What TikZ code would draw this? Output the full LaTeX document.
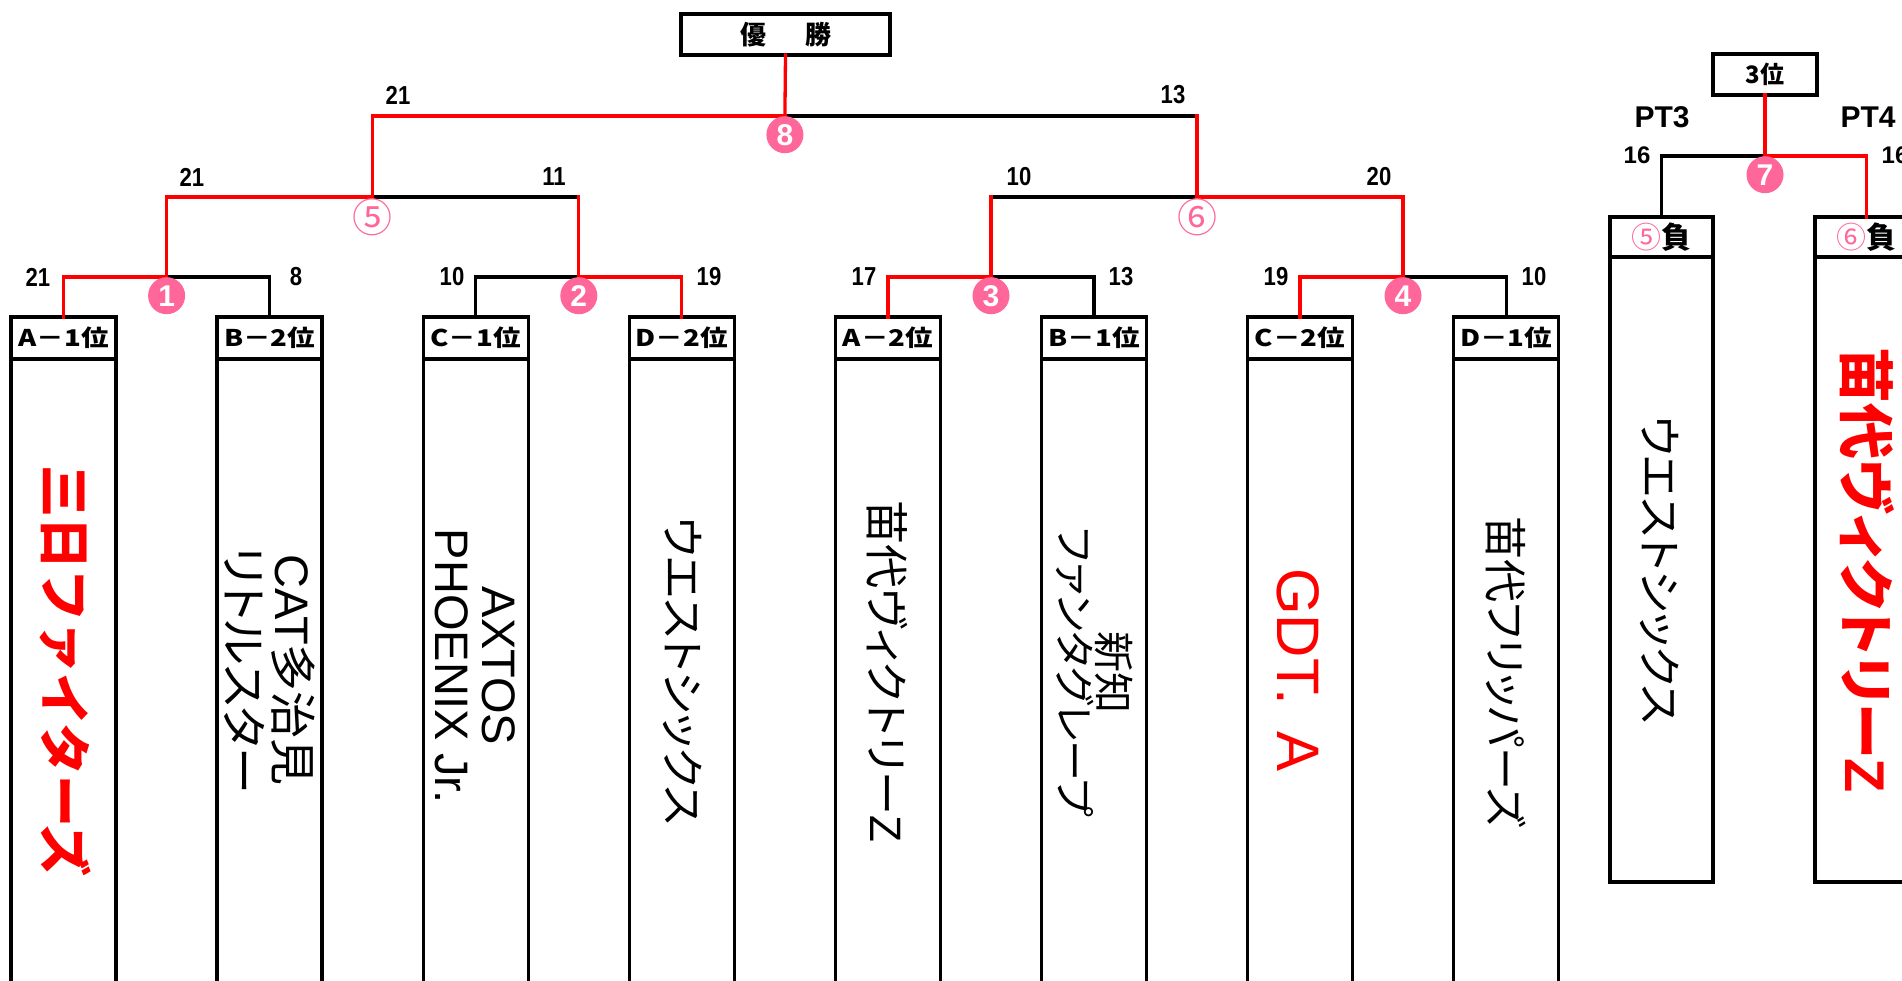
\documentclass[tikz,border=0pt]{standalone}
\usepackage{fontspec}
\setmainfont{Liberation Sans}
\newfontfamily\lat{Liberation Sans}
\newfontfamily\jpf[RawFeature=+palt]{Noto Sans CJK JP}
\newfontfamily\jpm{Noto Sans CJK JP}
\newcommand\fsz[1]{\fontsize{#1}{#1}\selectfont}
\definecolor{pinkc}{RGB}{255,102,153}
\definecolor{redc}{RGB}{255,0,0}
\begin{document}
\begin{tikzpicture}[x=1pt,y=-1pt,
  blk/.style={line width=3.3pt, black, line cap=rect},
  rd/.style={line width=3.3pt, redc, line cap=rect},
  hdr/.style={draw, line width=3.3pt, minimum width=105pt, minimum height=42pt, inner sep=0pt, outer sep=0pt, font=\jpf\bfseries\fsz{23}},
  hdrthird/.style={draw, line width=3.3pt, minimum width=103pt, minimum height=40pt, inner sep=0pt, outer sep=0pt, font=\jpf\bfseries\fsz{30}},
  titlebox/.style={draw, line width=3.3pt, minimum height=41pt, inner sep=0pt, outer sep=0pt},
  bodyline/.style={line width=3.3pt, black},
  dot/.style={circle, fill=pinkc, text=white, minimum size=37pt, inner sep=0pt, font=\lat\bfseries\fsz{30}},
  ring/.style={inner sep=0pt, text=pinkc, font=\jpf\fsz{40}},
  sc/.style={inner sep=0pt, font=\lat\bfseries\fsz{26}, xscale=0.85},
  nm/.style={rotate=-90, align=center, inner sep=0pt}
]
\useasboundingbox (0,0) rectangle (1902,981);
\fill[white] (0,0) rectangle (1902,981);
\clip (0,0) rectangle (1902,981);

% title boxes
\node[titlebox, minimum width=209pt, font=\jpf\bfseries\fsz{26}] (champ) at (785.5,34.5) {優\hspace{1.5em}勝};
\node[titlebox, minimum width=104pt, font=\jpf\bfseries\fsz{24}] (third) at (1765,74.5) {3位};

% team headers
\node[hdr] (h0) at (63.5,338) {\scalebox{1.2}[1]{A－1位}};
\node[hdr] (h1) at (269.6,338) {\scalebox{1.2}[1]{B－2位}};
\node[hdr] (h2) at (475.7,338) {\scalebox{1.2}[1]{C－1位}};
\node[hdr] (h3) at (681.8,338) {\scalebox{1.2}[1]{D－2位}};
\node[hdr] (h4) at (887.9,338) {\scalebox{1.2}[1]{A－2位}};
\node[hdr] (h5) at (1094.0,338) {\scalebox{1.2}[1]{B－1位}};
\node[hdr] (h6) at (1300.1,338) {\scalebox{1.2}[1]{C－2位}};
\node[hdr] (h7) at (1506.2,338) {\scalebox{1.2}[1]{D－1位}};
\node[hdrthird] (h8) at (1661.5,237) {{\mdseries\color{pinkc}⑤}負};
\node[hdrthird] (h9) at (1866.5,237) {{\mdseries\color{pinkc}⑥}負};

% team bodies
\foreach \h in {h0,h1,h2,h3,h4,h5,h6,h7}
  \draw[bodyline] (\h.south west) rectangle ++(105,700);
\draw[bodyline] (h8.south west) rectangle ++(103,625);
\draw[bodyline] (h9.south west) rectangle ++(103,625);

% junctions
\coordinate (m1) at (166.6,277);
\coordinate (m2) at (578.8,277);
\coordinate (m3) at (991,277);
\coordinate (m4) at (1403,277);
\coordinate (s5) at (372.7,197);
\coordinate (s6) at (1197,197);
\coordinate (f8) at (784.9,116);
\coordinate (t7) at (1765,156);

% black (losing) lines
\draw[blk] (m1) -| (h1.north);
\draw[blk] (h2.north) |- (m2);
\draw[blk] (m3) -| (h5.north);
\draw[blk] (m4) -| (h7.north);
\draw[blk] (s5) -- (s5 -| m2);
\draw[blk] (m3 |- s6) -- (s6);
\draw[blk] (f8) -- (f8 -| s6);
\draw[blk] (t7) -| (h8.north);

% red (winning) lines
\draw[rd] (h0.north) |- (m1);
\draw[rd] (m2) -| (h3.north);
\draw[rd] (h4.north) |- (m3);
\draw[rd] (h6.north) |- (m4);
\draw[rd] (m1) |- (s5);
\draw[rd] (s5 -| m2) -- (m2);
\draw[rd] (m3) -- (m3 |- s6);
\draw[rd] (s6) -| (m4);
\draw[rd] (s5) |- (f8);
\draw[rd] (f8 -| s6) -- (s6);
\draw[rd] (champ.south) -- (f8);
\draw[rd] (third.south) -- (t7);
\draw[rd] (t7) -| (h9.north);

% match numbers
\node[dot, anchor=north] (c1) at (m1) {1};
\node[dot, anchor=north] (c2) at (m2) {2};
\node[dot, anchor=north] (c3) at (m3) {3};
\node[dot, anchor=north] (c4) at (m4) {4};
\node[dot, anchor=north] (c8) at (f8) {8};
\node[dot, anchor=north] (c7) at (t7) {7};
\node[ring] (c5) at (372.7,217) {⑤};
\node[ring] (c6) at (1197,217) {⑥};

% scores
\node[sc] (a1) at (38,277) {21};
\node[sc] (a2) at (296,277) {8};
\node[sc] (a3) at (452,277) {10};
\node[sc] (a4) at (709,277) {19};
\node[sc] (a5) at (864,277) {17};
\node[sc] (a6) at (1121,277) {13};
\node[sc] (a7) at (1276,277) {19};
\node[sc] (a8) at (1534,277) {10};
\node[sc] (b1) at (192,177) {21};
\node[sc] (b2) at (554,177) {11};
\node[sc] (b3) at (1019,177) {10};
\node[sc] (b4) at (1379,177) {20};
\node[sc] (f1) at (398,95) {21};
\node[sc] (f2) at (1173,95) {13};
\node[inner sep=0pt, font=\lat\bfseries\fsz{24}] (p1) at (1637,155) {16};
\node[inner sep=0pt, font=\lat\bfseries\fsz{24}] (p2) at (1895,155) {16};
\node[inner sep=0pt, font=\lat\bfseries\fsz{30}] (pt3) at (1662,117) {PT3};
\node[inner sep=0pt, font=\lat\bfseries\fsz{30}] (pt4) at (1868,117) {PT4};

% team names
\node[nm, text=redc, font=\jpm\bfseries\fsz{52}] (n0) at (66,671) {三日ファイターズ};
\node[nm, font=\lat\fontsize{47}{49}\selectfont] (n1) at (270,670) {CAT{\jpf 多治見}\\{\jpf リトルスター}};
\node[nm, font=\lat\fontsize{47}{47}\selectfont] (n2) at (475.5,666) {AXTOS\\PHOENIX Jr.};
\node[nm, font=\jpf\fsz{44}] (n3) at (683,671) {ウエストシックス};
\node[nm, font=\jpf\fsz{44}] (n4) at (887,671) {苗代ヴィクトリー{\lat Z}};
\node[nm, font=\jpf\fontsize{41}{39}\selectfont] (n5) at (1094.5,672) {新知\\ファンタグレープ};
\node[nm, text=redc, font=\lat\fsz{60}] (n6) at (1298,670) {GDT.\hspace{0.45em}A};
\node[nm, font=\jpf\fsz{43}] (n7) at (1506,672) {苗代フリッパーズ};
\node[nm, font=\jpf\fsz{44}] (n8) at (1660,570) {ウエストシックス};
\node[nm, text=redc, font=\jpf\bfseries\fsz{56}] (n9) at (1867,570) {苗代ヴィクトリー{\lat\bfseries Z}};
\end{tikzpicture}
\end{document}
